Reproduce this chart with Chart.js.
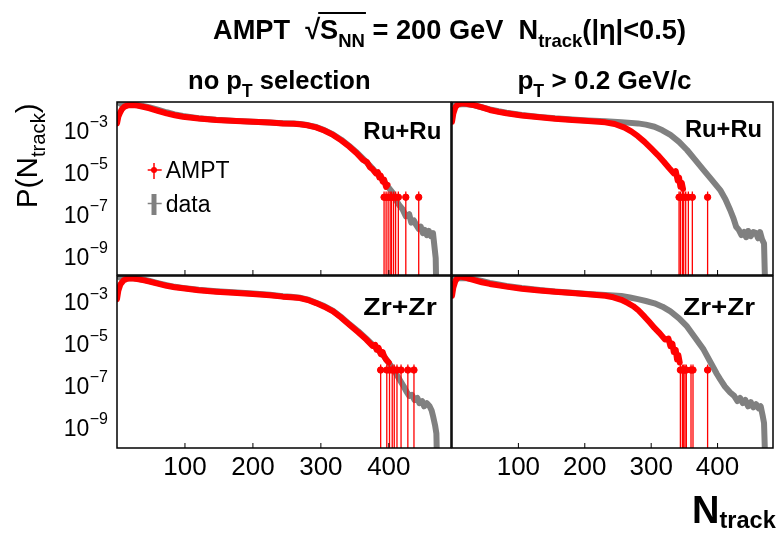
<!DOCTYPE html>
<html><head><meta charset="utf-8">
<script src="https://cdn.jsdelivr.net/npm/chart.js@4.4.1/dist/chart.umd.min.js"></script>
<style>
html,body{margin:0;padding:0;background:#fff;width:778px;height:533px;overflow:hidden}
canvas{position:absolute;left:0;top:0}
</style>
</head><body>
<canvas id="pTL" width="778" height="533"></canvas>
<canvas id="pTR" width="778" height="533"></canvas>
<canvas id="pBL" width="778" height="533"></canvas>
<canvas id="pBR" width="778" height="533"></canvas>
<canvas id="txt" width="778" height="533"></canvas>
<script>
// ---------- DATA (log10 of P(N_track)) ----------
// Ru+Ru, no pT selection
const ruAllAmptN   = [0,2,4,7,11,16,23,30,40,48,60,73,85,97,120,146,175,200,225,244,260,269,280,293,305,318,330,342,352,362,368,372,376,381,384,386,388,391,393,396,398];
const ruAllAmptLog = [-2.77,-2.45,-2.29,-2.10,-1.97,-1.91,-1.89,-1.92,-1.99,-2.05,-2.17,-2.29,-2.38,-2.45,-2.54,-2.61,-2.66,-2.69,-2.73,-2.77,-2.79,-2.81,-2.86,-2.96,-3.11,-3.32,-3.58,-3.88,-4.17,-4.51,-4.62,-4.85,-4.95,-5.15,-5.10,-5.35,-5.25,-5.55,-5.45,-5.80,-5.70];
const ruAllTailN   = [393,396,399,402,404,407,410,414,425,444];
const ruAllTailLog = [-6.29,-6.29,-6.29,-6.29,-6.29,-6.29,-6.29,-6.29,-6.29,-6.29];
const ruAllTailUp  = [-6.02,-6.02,-6.02,-6.02,-6.02,-6.02,-6.02,-6.02,-6.02,-6.02];
const ruAllDataN   = [0,1,3,6,10,16,23,30,40,48,60,73,85,97,120,146,175,200,225,244,260,269,280,293,305,318,330,342,352,362,372,381,391,400,405,411,416,420,425,430,433,437,440,444,447,450,453,456,459,462,465,467,469,470];
const ruAllDataLog = [-1.40,-1.60,-1.78,-1.86,-1.88,-1.88,-1.87,-1.89,-1.95,-2.01,-2.12,-2.24,-2.34,-2.42,-2.52,-2.60,-2.65,-2.69,-2.73,-2.76,-2.78,-2.80,-2.85,-2.94,-3.09,-3.30,-3.55,-3.85,-4.13,-4.45,-4.78,-5.10,-5.45,-5.85,-6.05,-6.45,-6.70,-6.85,-7.20,-7.10,-7.50,-7.40,-7.60,-7.80,-7.70,-8.00,-7.85,-8.10,-7.90,-8.15,-8.00,-8.60,-9.20,-11.0];

// Ru+Ru, pT > 0.2 GeV/c
const ruPtAmptN   = [0,2,5,9,15,22,32,45,57,70,82,105,132,155,181,205,231,245,260,270,280,290,300,310,319,327,334,337,340,342,344,346,348];
const ruPtAmptLog = [-2.69,-2.30,-2.00,-1.86,-1.81,-1.83,-1.89,-2.01,-2.13,-2.22,-2.29,-2.39,-2.48,-2.55,-2.61,-2.66,-2.72,-2.80,-2.97,-3.15,-3.38,-3.65,-3.96,-4.28,-4.60,-4.90,-5.15,-5.05,-5.50,-5.35,-5.79,-5.60,-5.90];
const ruPtTailN   = [342,344,347,349,352,356,362,385];
const ruPtTailLog = [-6.29,-6.29,-6.29,-6.29,-6.29,-6.29,-6.29,-6.29];
const ruPtTailUp  = [-6.02,-6.02,-6.02,-6.02,-6.02,-6.02,-6.02,-6.02];
const ruPtDataN   = [0,1,3,6,10,15,22,32,45,57,70,82,105,132,155,181,205,231,255,280,292,305,317,329,342,354,366,379,391,404,412,419,424,428,432,436,440,443,446,450,454,458,461,464,467,470,472];
const ruPtDataLog = [-1.40,-1.65,-1.80,-1.86,-1.87,-1.86,-1.86,-1.90,-2.00,-2.10,-2.19,-2.26,-2.37,-2.46,-2.53,-2.58,-2.63,-2.67,-2.71,-2.77,-2.83,-2.93,-3.10,-3.32,-3.65,-4.04,-4.50,-5.00,-5.45,-5.95,-6.40,-6.90,-7.30,-7.70,-7.85,-8.10,-7.95,-8.20,-7.90,-8.15,-7.95,-8.00,-8.25,-7.95,-8.30,-8.50,-11.0];

// Zr+Zr, no pT selection
const zrAllAmptN   = [0,2,5,10,15,21,30,40,48,60,73,85,97,120,146,171,200,225,244,256,269,281,293,305,318,330,342,355,367,376,380,382,385,388,391,393,396,400];
const zrAllAmptLog = [-2.96,-2.55,-2.25,-2.05,-1.98,-1.96,-2.00,-2.06,-2.12,-2.22,-2.32,-2.39,-2.44,-2.53,-2.60,-2.65,-2.71,-2.77,-2.84,-2.87,-2.91,-3.00,-3.15,-3.32,-3.55,-3.85,-4.19,-4.55,-4.90,-5.20,-5.15,-5.38,-5.30,-5.60,-5.50,-5.70,-5.86,-6.00];
const zrAllTailN   = [388,397,401,405,408,412,418,428,437];
const zrAllTailLog = [-6.36,-6.36,-6.36,-6.36,-6.36,-6.36,-6.36,-6.36,-6.36];
const zrAllTailUp  = [-6.10,-6.10,-6.10,-6.10,-6.10,-6.10,-6.10,-6.10,-6.10];
const zrAllDataN   = [0,1,3,6,10,15,21,30,40,48,60,73,85,97,120,146,171,200,225,244,256,269,281,293,305,318,330,342,355,367,381,393,403,410,416,422,426,430,434,438,442,445,449,452,456,460,463,465,468,470,471];
const zrAllDataLog = [-1.50,-1.75,-1.90,-1.96,-1.97,-1.96,-1.95,-1.98,-2.03,-2.09,-2.19,-2.29,-2.37,-2.42,-2.51,-2.58,-2.63,-2.69,-2.75,-2.82,-2.85,-2.89,-2.98,-3.13,-3.29,-3.52,-3.82,-4.16,-4.50,-4.86,-5.30,-5.70,-6.15,-6.50,-6.83,-7.15,-7.40,-7.60,-7.55,-7.80,-7.70,-7.95,-7.85,-8.10,-7.95,-8.10,-8.30,-8.56,-9.00,-9.40,-11.0];

// Zr+Zr, pT > 0.2 GeV/c
const zrPtAmptN   = [0,2,5,8,12,20,32,45,57,70,82,105,132,155,181,205,231,243,255,265,273,280,290,297,305,313,321,326,329,332,334,337,339,341,343];
const zrPtAmptLog = [-2.80,-2.40,-2.10,-1.95,-1.88,-1.93,-2.04,-2.15,-2.23,-2.30,-2.36,-2.46,-2.55,-2.61,-2.67,-2.73,-2.80,-2.87,-2.99,-3.15,-3.30,-3.47,-3.80,-4.05,-4.34,-4.60,-4.90,-4.85,-5.22,-5.10,-5.50,-5.40,-5.86,-5.65,-6.00];
const zrPtTailN   = [344,347,349,351,353,360,363,385];
const zrPtTailLog = [-6.36,-6.36,-6.36,-6.36,-6.36,-6.36,-6.36,-6.36];
const zrPtTailUp  = [-6.10,-6.10,-6.10,-6.10,-6.10,-6.10,-6.10,-6.10];
const zrPtDataN   = [0,1,3,6,10,15,22,32,45,57,70,82,105,132,155,181,205,231,255,268,280,292,305,317,329,342,354,366,379,391,399,404,411,419,425,430,434,438,442,446,450,454,458,462,465,468,470,472];
const zrPtDataLog = [-1.50,-1.75,-1.90,-1.96,-1.96,-1.95,-1.96,-2.00,-2.09,-2.18,-2.26,-2.33,-2.43,-2.52,-2.59,-2.65,-2.71,-2.76,-2.81,-2.88,-2.96,-3.05,-3.16,-3.32,-3.55,-3.88,-4.27,-4.80,-5.38,-6.08,-6.55,-6.81,-7.15,-7.44,-7.60,-7.85,-7.70,-7.95,-7.80,-8.10,-7.90,-8.15,-8.00,-8.20,-8.10,-8.56,-8.90,-11.0];

// Tick labels
const xTickValues = [100, 200, 300, 400];
const yTickExponents = [-3, -5, -7, -9];

// ---------- DRAWING ----------
const FONT = "'Liberation Sans', Arial, Helvetica, sans-serif";
const RED = '#ff0000', GREY = '#808080';

function drawRich(ctx, parts, x, y, size, bold, targetW, align) {
  const w = bold ? 'bold ' : '';
  let total = 0;
  const items = parts.map(p => {
    const s = (p.sub || p.sup) ? size * (p.rel || 0.68) : size;
    ctx.font = w + s + 'px ' + FONT;
    const width = ctx.measureText(p.t).width;
    const dy = p.sub ? size * (p.down || 0.3) : (p.sup ? -size * 0.45 : 0);
    const it = {t: p.t, s, width, dy, over: p.over, x: total};
    total += width;
    return it;
  });
  const sx = targetW ? targetW / total : 1;
  let x0 = x;
  if (align === 'center') x0 = x - total * sx / 2;
  else if (align === 'right') x0 = x - total * sx;
  ctx.save();
  ctx.translate(x0, y);
  ctx.scale(sx, 1);
  ctx.fillStyle = '#000';
  ctx.textBaseline = 'alphabetic';
  ctx.textAlign = 'left';
  items.forEach(it => { ctx.font = w + it.s + 'px ' + FONT; ctx.fillText(it.t, it.x, it.dy); });
  const ov = items.filter(i => i.over);
  if (ov.length) {
    ctx.strokeStyle = '#000';
    ctx.lineWidth = 2;
    ctx.beginPath();
    const a = ov[0].x - 2, b = ov[ov.length - 1].x + ov[ov.length - 1].width + 1;
    ctx.moveTo(a, -size * 0.93); ctx.lineTo(b, -size * 0.93);
    ctx.stroke();
  }
  ctx.restore();
}

function panelPlugin(cfg) {
  return {
    id: 'panelDeco',
    afterDatasetsDraw(chart) {
      const ctx = chart.ctx, a = chart.chartArea;
      const xs = chart.scales.x, ys = chart.scales.y;
      ctx.save();
      ctx.beginPath(); ctx.rect(a.left, a.top, a.right - a.left, a.bottom - a.top); ctx.clip();
      ctx.strokeStyle = RED; ctx.lineWidth = 1.3;
      cfg.tailN.forEach((n, i) => {
        const px = xs.getPixelForValue(n);
        const pu = ys.getPixelForValue(Math.pow(10, cfg.tailUp[i]));
        ctx.beginPath(); ctx.moveTo(px, pu); ctx.lineTo(px, a.bottom + 2); ctx.stroke();
        const py = ys.getPixelForValue(Math.pow(10, cfg.tailLog[i]));
        ctx.beginPath(); ctx.moveTo(px - 3, py); ctx.lineTo(px + 3, py); ctx.stroke();
      });
      ctx.restore();
    },
    afterDraw(chart) {
      const ctx = chart.ctx, a = chart.chartArea;
      const xs = chart.scales.x, ys = chart.scales.y;
      ctx.save();
      // frame
      ctx.strokeStyle = '#000'; ctx.lineWidth = 1.5;
      ctx.strokeRect(a.left, a.top, a.right - a.left, a.bottom - a.top);
      // x ticks
      ctx.lineWidth = 1;
      xTickValues.forEach(v => {
        const px = xs.getPixelForValue(v);
        ctx.beginPath(); ctx.moveTo(px, a.bottom); ctx.lineTo(px, a.bottom - 5); ctx.stroke();
      });
      ctx.fillStyle = '#000';
      if (cfg.showX) {
        ctx.font = '26px ' + FONT; ctx.textAlign = 'center'; ctx.textBaseline = 'alphabetic';
        xTickValues.forEach(v => {
          const px = xs.getPixelForValue(v);
          ctx.fillText(String(v), px, 474.5);
        });
      }
      if (cfg.showY) {
        yTickExponents.forEach(e => {
          const py = ys.getPixelForValue(Math.pow(10, e));
          const ex = '\u2212' + Math.abs(e);
          ctx.font = '16px ' + FONT; ctx.textAlign = 'left'; ctx.textBaseline = 'alphabetic';
          const we = ctx.measureText(ex).width;
          const right = a.left - 9;
          ctx.fillText(ex, right - we, py - 1);
          ctx.font = '23px ' + FONT; ctx.textAlign = 'right';
          ctx.fillText('10', right - we - 0.5, py + 10.5);
        });
      }
      // system label
      drawRich(ctx, [{t: cfg.label}], cfg.labelX, cfg.labelY, 23, true, cfg.labelW, 'left');
      if (cfg.legend) {
        // AMPT entry
        ctx.strokeStyle = RED; ctx.fillStyle = RED; ctx.lineWidth = 1.5;
        ctx.beginPath(); ctx.moveTo(147.7, 170); ctx.lineTo(161.7, 170); ctx.moveTo(154, 163); ctx.lineTo(154, 179); ctx.stroke();
        ctx.beginPath(); ctx.arc(154, 170, 3, 0, Math.PI * 2); ctx.fill();
        // data entry
        ctx.strokeStyle = GREY; ctx.lineWidth = 1.5;
        ctx.beginPath(); ctx.moveTo(147.7, 203.5); ctx.lineTo(161.7, 203.5); ctx.stroke();
        ctx.lineWidth = 5;
        ctx.beginPath(); ctx.moveTo(154, 194); ctx.lineTo(154, 215); ctx.stroke();
        ctx.fillStyle = '#000'; ctx.font = '23px ' + FONT; ctx.textAlign = 'left'; ctx.textBaseline = 'alphabetic';
        ctx.fillText('AMPT', 165.7, 177.5);
        ctx.fillText('data', 165.7, 211.5);
      }
      ctx.restore();
    }
  };
}

function makePanel(id, area, xmax, ylo, yhi, s, cfg) {
  const pts = (ns, ls) => ns.map((n, i) => ({x: n, y: Math.pow(10, ls[i])}));
  cfg.tailN = s.tailN; cfg.tailLog = s.tailLog; cfg.tailUp = s.tailUp;
  return new Chart(document.getElementById(id), {
    type: 'line',
    data: {datasets: [
      {label: 'AMPT tail', data: pts(s.tailN, s.tailLog), showLine: false, pointRadius: 3.2,
       pointBackgroundColor: RED, pointBorderColor: RED, borderColor: RED, order: 0},
      {label: 'AMPT', data: pts(s.amptN, s.amptLog), borderColor: RED, borderWidth: 6, pointRadius: 0,
       borderJoinStyle: 'round', borderCapStyle: 'round', tension: 0, order: 1},
      {label: 'data', data: pts(s.dataN, s.dataLog), borderColor: GREY, borderWidth: 6, pointRadius: 0,
       borderJoinStyle: 'round', tension: 0, order: 2}
    ]},
    options: {
      responsive: false, animation: false, events: [], devicePixelRatio: 1,
      layout: {padding: {left: area.l, top: area.t, right: 778 - area.r, bottom: 533 - area.b}},
      plugins: {legend: {display: false}, tooltip: {enabled: false}},
      scales: {
        x: {type: 'linear', min: 0, max: xmax, display: false},
        y: {type: 'logarithmic', min: Math.pow(10, ylo), max: Math.pow(10, yhi), display: false}
      }
    },
    plugins: [panelPlugin(cfg)]
  });
}

makePanel('pTL', {l: 117, r: 451, t: 102, b: 275}, 491.5, -10.0, -1.75,
  {amptN: ruAllAmptN, amptLog: ruAllAmptLog, dataN: ruAllDataN, dataLog: ruAllDataLog, tailN: ruAllTailN, tailLog: ruAllTailLog, tailUp: ruAllTailUp},
  {showX: false, showY: true, legend: true, label: 'Ru+Ru', labelX: 363.3, labelY: 138.5, labelW: 78});
makePanel('pTR', {l: 452, r: 777, t: 102, b: 275}, 483.5, -10.0, -1.75,
  {amptN: ruPtAmptN, amptLog: ruPtAmptLog, dataN: ruPtDataN, dataLog: ruPtDataLog, tailN: ruPtTailN, tailLog: ruPtTailLog, tailUp: ruPtTailUp},
  {showX: false, showY: false, legend: false, label: 'Ru+Ru', labelX: 685, labelY: 136.7, labelW: 77});
makePanel('pBL', {l: 117, r: 451, t: 276, b: 448}, 491.5, -10.1, -1.85,
  {amptN: zrAllAmptN, amptLog: zrAllAmptLog, dataN: zrAllDataN, dataLog: zrAllDataLog, tailN: zrAllTailN, tailLog: zrAllTailLog, tailUp: zrAllTailUp},
  {showX: true, showY: true, legend: false, label: 'Zr+Zr', labelX: 363.3, labelY: 315, labelW: 73.4});
makePanel('pBR', {l: 452, r: 777, t: 276, b: 448}, 483.5, -10.1, -1.85,
  {amptN: zrPtAmptN, amptLog: zrPtAmptLog, dataN: zrPtDataN, dataLog: zrPtDataLog, tailN: zrPtTailN, tailLog: zrPtTailLog, tailUp: zrPtTailUp},
  {showX: true, showY: false, legend: false, label: 'Zr+Zr', labelX: 683.3, labelY: 315, labelW: 71.7});

// ---------- Titles ----------
const tctx = document.getElementById('txt').getContext('2d');
drawRich(tctx, [
  {t: 'AMPT  \u221A'}, {t: 'S', over: true}, {t: 'NN', sub: true, over: true},
  {t: ' = 200 GeV  N'}, {t: 'track', sub: true}, {t: '(|\u03B7|<0.5)'}
], 213, 39, 28, true, 473, 'left');
drawRich(tctx, [{t: 'no p'}, {t: 'T', sub: true, down: 0.32}, {t: ' selection'}], 188, 89, 26, true, 182.6, 'left');
drawRich(tctx, [{t: 'p'}, {t: 'T', sub: true, down: 0.32}, {t: ' > 0.2 GeV/c'}], 517.4, 89, 26, true, 174, 'left');
// Y axis title (rotated)
tctx.save();
tctx.translate(36.7, 208.3);
tctx.rotate(-Math.PI / 2);
drawRich(tctx, [{t: 'P(N'}, {t: 'track', sub: true, rel: 0.68, down: 0.27}, {t: ')'}], 0, 0, 30, false, 105, 'left');
tctx.restore();
// X axis title
drawRich(tctx, [{t: 'N'}, {t: 'track', sub: true, rel: 0.62, down: 0.14}], 692, 523, 38, true, 0, 'left');
</script>
</body></html>
